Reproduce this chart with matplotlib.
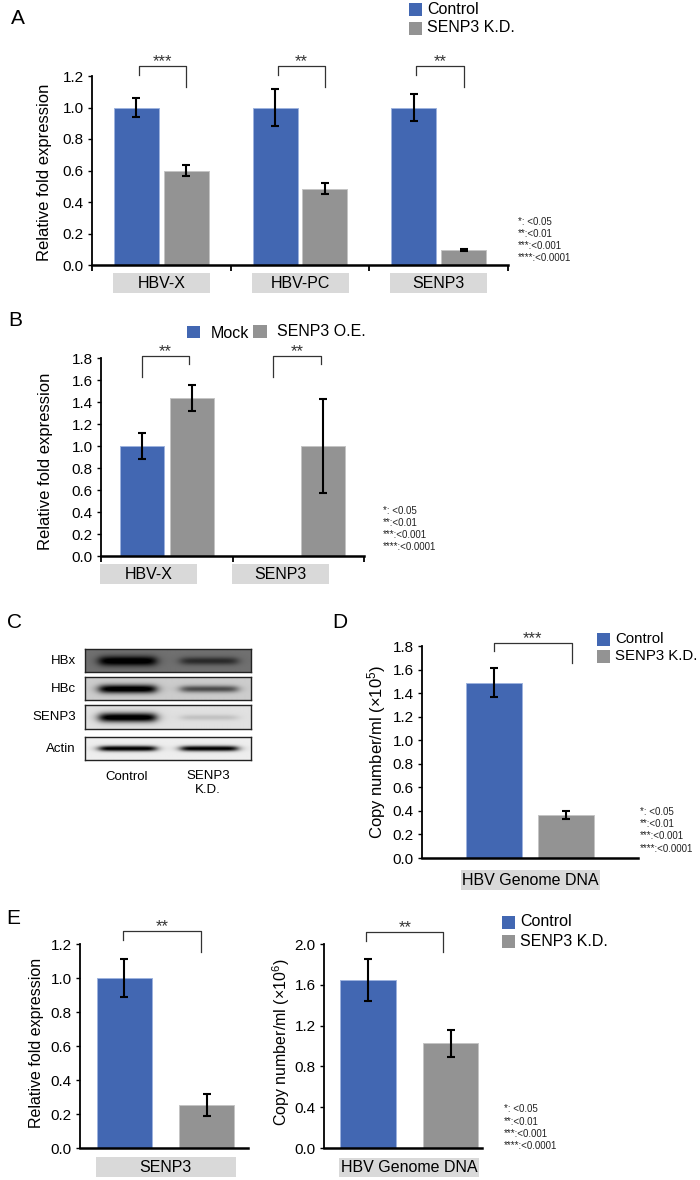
import numpy as np
import matplotlib
matplotlib.use("Agg")
import matplotlib.pyplot as plt
from matplotlib.patches import Rectangle

plt.rcParams['font.family'] = ['Liberation Sans', 'DejaVu Sans']
plt.rcParams['mathtext.fontset'] = 'custom'
plt.rcParams['mathtext.rm'] = 'Liberation Sans'
plt.rcParams['mathtext.it'] = 'Liberation Sans:italic'

# ---------------- data ----------------
A_groups = ['HBV-X', 'HBV-PC', 'SENP3']
A_control = [1.0, 1.0, 1.0]
A_control_err = [0.06, 0.12, 0.087]
A_kd = [0.60, 0.485, 0.095]
A_kd_err = [0.035, 0.035, 0.004]
A_sig = ['***', '**', '**']
A_yticks = [0.0, 0.2, 0.4, 0.6, 0.8, 1.0, 1.2]

B_groups = ['HBV-X', 'SENP3']
B_mock = [1.0, 0.0]
B_mock_err = [0.115, 0.0]
B_oe = [1.435, 1.0]
B_oe_err = [0.12, 0.43]
B_sig = ['**', '**']
B_yticks = [0.0, 0.2, 0.4, 0.6, 0.8, 1.0, 1.2, 1.4, 1.6, 1.8]

C_rows = ['HBx', 'HBc', 'SENP3', 'Actin']
C_lanes = ['Control', 'SENP3\nK.D.']
C_control_band = [1.0, 0.97, 0.97, 0.97]
C_kd_band = [0.55, 0.55, 0.12, 0.95]
C_background = [0.44, 0.80, 0.88, 0.93]
C_band_sigma = [5.0, 4.4, 4.8, 2.6]

D_groups = ['HBV Genome DNA']
D_control = [1.49]
D_control_err = [0.12]
D_kd = [0.365]
D_kd_err = [0.035]
D_sig = ['***']
D_yticks = [0.0, 0.2, 0.4, 0.6, 0.8, 1.0, 1.2, 1.4, 1.6, 1.8]

E1_groups = ['SENP3']
E1_control = [1.0]
E1_control_err = [0.11]
E1_kd = [0.255]
E1_kd_err = [0.065]
E1_sig = ['**']
E1_yticks = [0.0, 0.2, 0.4, 0.6, 0.8, 1.0, 1.2]

E2_groups = ['HBV Genome DNA']
E2_control = [1.645]
E2_control_err = [0.205]
E2_kd = [1.025]
E2_kd_err = [0.135]
E2_sig = ['**']
E2_yticks = [0.0, 0.4, 0.8, 1.2, 1.6, 2.0]

sig_legend = ['*: <0.05', '**:<0.01', '***:<0.001', '****:<0.0001']

# ---------------- style ----------------
BLUE = '#4267b2'
BLUE_EDGE = '#9db3de'
GREY = '#939393'
GREY_EDGE = '#c4c4c4'
BOX = '#d9d9d9'
W, H = 700, 1180

fig = plt.figure(figsize=(W / 100, H / 100), dpi=100)
ov = fig.add_axes([0, 0, 1, 1], zorder=5)
ov.set_xlim(0, W)
ov.set_ylim(H, 0)
ov.axis('off')
ov.patch.set_alpha(0)


def ax_px(x0, y0, x1, y1):
    return fig.add_axes([x0 / W, 1 - y1 / H, (x1 - x0) / W, (y1 - y0) / H])


def style_axes(ax, yticks, ylim):
    ax.set_ylim(*ylim)
    ax.set_yticks(yticks)
    ax.set_yticklabels([f'{t:.1f}' for t in yticks], fontsize=11)
    for s in ['top', 'right']:
        ax.spines[s].set_visible(False)
    ax.spines['left'].set_linewidth(1.3)
    ax.spines['bottom'].set_linewidth(1.8)
    ax.tick_params(axis='y', length=3, width=1, pad=3, direction='out')
    ax.patch.set_alpha(0)


def draw_bars(ax, x, ctrl, ctrl_err, kd, kd_err, off, width):
    x = np.asarray(x, dtype=float)
    ctrl = np.asarray(ctrl, dtype=float)
    kd = np.asarray(kd, dtype=float)
    ax.bar(x - off, ctrl, width, color=BLUE, edgecolor=BLUE_EDGE, linewidth=0.7, zorder=2)
    ax.bar(x + off, kd, width, color=GREY, edgecolor=GREY_EDGE, linewidth=0.7, zorder=2)
    m = ctrl > 0
    ax.errorbar((x - off)[m], ctrl[m], yerr=np.asarray(ctrl_err)[m], fmt='none', ecolor='black',
                elinewidth=1.5, capsize=3, capthick=1.5, zorder=3)
    ax.errorbar(x + off, kd, yerr=kd_err, fmt='none', ecolor='black',
                elinewidth=1.5, capsize=3, capthick=1.5, zorder=3)


def bracket(ax, xl, xr, ytop, yl, yr, stars):
    ax.plot([xl, xl, xr, xr], [yl, ytop, ytop, yr], color='#333333', lw=0.9,
            clip_on=False, zorder=4)
    ax.annotate(stars, xy=((xl + xr) / 2, ytop), xytext=(0, 0), textcoords='offset points',
                ha='center', va='baseline', fontsize=12, color='#333333', annotation_clip=False)


def cat_box(ax, xdata, label, y0, y1, width, dx=0):
    px = ax.transData.transform((xdata, 0))[0] + dx
    ov.add_patch(Rectangle((px - width / 2, y0), width, y1 - y0, facecolor=BOX, edgecolor='none'))
    ov.text(px, (y0 + y1) / 2 + 0.5, label, ha='center', va='center', fontsize=11.5)


def sig_text(x, ys):
    for s, y in zip(sig_legend, ys):
        ov.text(x, y, s, ha='left', va='center', fontsize=7,
                family=['Liberation Sans Narrow', 'Liberation Sans'], color='#222222')


def legend(x, y0, labels, colors, gap=19, size=13, fs=11.5):
    for i, (lab, c) in enumerate(zip(labels, colors)):
        y = y0 + i * gap
        ov.add_patch(Rectangle((x, y - size / 2), size, size, facecolor=c, edgecolor='none'))
        ov.text(x + size + 5, y, lab, ha='left', va='center', fontsize=fs)


def panel_letter(x, y, s):
    ov.text(x, y, s, ha='center', va='center', fontsize=15)


def ylabel(x, y, s, fs=11.5):
    ov.text(x, y, s, ha='center', va='center', rotation=90, fontsize=fs)


# ---------------- Panel A ----------------
axA = ax_px(92, 76, 508, 265)
style_axes(axA, A_yticks, (0, 1.2))
xA = np.arange(len(A_groups))
axA.set_xlim(-0.5, len(A_groups) - 0.5)
draw_bars(axA, xA, A_control, A_control_err, A_kd, A_kd_err, 0.18, 0.324)
axA.set_xticks(np.arange(len(A_groups) + 1) - 0.5)
axA.set_xticklabels([])
axA.tick_params(axis='x', length=4, width=1.3, direction='out')
for i, s in enumerate(A_sig):
    bracket(axA, xA[i] - 0.16, xA[i] + 0.18, 1.263, 1.206, 1.13, s)
for i, g in enumerate(A_groups):
    cat_box(axA, xA[i], g, 273, 293, 97)
panel_letter(18, 19, 'A')
ylabel(45, 172, 'Relative fold expression', 12)
legend(409, 9, ['Control', 'SENP3 K.D.'], [BLUE, GREY])
sig_text(518, [222, 234, 246, 258])

# ---------------- Panel B ----------------
axB = ax_px(101, 358, 364, 556)
style_axes(axB, B_yticks, (0, 1.8))
xB = np.arange(len(B_groups))
axB.set_xlim(-0.5, len(B_groups) - 0.5)
draw_bars(axB, xB, B_mock, B_mock_err, B_oe, B_oe_err, 0.19, 0.333)
axB.set_xticks(np.arange(len(B_groups) + 1) - 0.5)
axB.set_xticklabels([])
axB.tick_params(axis='x', length=4, width=1.3, direction='out')
for i, s in enumerate(B_sig):
    bracket(axB, xB[i] - 0.19, xB[i] + 0.17, 1.818, 1.627, 1.745, s)
for i, g in enumerate(B_groups):
    cat_box(axB, xB[i], g, 564, 584, 97, dx=-18)
panel_letter(15, 321, 'B')
ylabel(46, 461, 'Relative fold expression', 12)
ov.add_patch(Rectangle((187, 326), 13, 12, facecolor=BLUE, edgecolor='none'))
ov.text(211, 333, 'Mock', ha='left', va='center', fontsize=11.5)
ov.add_patch(Rectangle((253, 325), 14, 13, facecolor=GREY, edgecolor='none'))
ov.text(277, 331, 'SENP3 O.E.', ha='left', va='center', fontsize=11.5)
sig_text(383, [511, 523, 535, 547])

# ---------------- Panel C (western blot) ----------------
panel_letter(15, 622, 'C')
row_boxes = [(649, 672), (677, 700), (705, 729), (737, 760)]
lane_frac = [0.253, 0.741]
for r, (y0, y1) in enumerate(row_boxes):
    axr = ax_px(85, y0, 251, y1)
    w, h = 166, int(y1 - y0)
    xx = np.arange(w)[None, :]
    yy = np.arange(h)[:, None]
    dark = np.zeros((h, w))
    for lane, inten in enumerate([C_control_band[r], C_kd_band[r]]):
        cx = lane_frac[lane] * w
        hw = 28
        hprof = 1 / (1 + np.exp((np.abs(xx - cx) - hw) / 3.0))
        sig = C_band_sigma[r] * (0.55 + 0.45 * inten)
        vprof = np.exp(-((yy - h / 2) / sig) ** 2)
        dark += inten * hprof * vprof
    dark = np.clip(dark * 1.15, 0, 1)
    img = C_background[r] * (1 - dark)
    axr.imshow(img, cmap='gray', vmin=0, vmax=1, aspect='auto', interpolation='bilinear',
               extent=[0, 1, 0, 1])
    axr.set_xticks([])
    axr.set_yticks([])
    for s in axr.spines.values():
        s.set_linewidth(1.0)
        s.set_color('#222222')
    ov.text(76, (y0 + y1) / 2, C_rows[r], ha='right', va='center', fontsize=9.5)
for lane, lab in enumerate(C_lanes):
    px = 85 + lane_frac[lane] * 166
    ov.text(px, 777 if lane == 0 else 783, lab, ha='center', va='center', fontsize=9.5,
            linespacing=1.2)

# ---------------- Panel D ----------------
axD = ax_px(422, 646, 638, 858)
style_axes(axD, D_yticks, (0, 1.8))
axD.set_xlim(-1.5, 1.5)
axD.set_xticks([])
draw_bars(axD, [0], D_control, D_control_err, D_kd, D_kd_err, 0.5, 0.79)
bracket(axD, -0.5, 0.58, 1.825, 1.757, 1.655, D_sig[0])
cat_box(axD, 0, D_groups[0], 870, 890, 139)
panel_letter(340, 623, 'D')
ylabel(377, 752, 'Copy number/ml (×10$^{5}$)', 12)
legend(597, 639, ['Control', 'SENP3 K.D.'], [BLUE, GREY], gap=17, fs=10.8)
sig_text(640, [812, 824, 836, 849])

# ---------------- Panel E ----------------
axE1 = ax_px(80, 944, 248, 1148)
style_axes(axE1, E1_yticks, (0, 1.2))
axE1.set_xlim(-1.04, 1.0)
axE1.set_xticks([])
draw_bars(axE1, [0], E1_control, E1_control_err, E1_kd, E1_kd_err, 0.5, 0.67)
bracket(axE1, -0.52, 0.43, 1.276, 1.224, 1.153, E1_sig[0])
cat_box(axE1, 0, E1_groups[0], 1157, 1177, 140)

axE2 = ax_px(324, 944, 482, 1148)
style_axes(axE2, E2_yticks, (0, 2.0))
axE2.set_xlim(-1.033, 0.88)
axE2.set_xticks([])
draw_bars(axE2, [0], E2_control, E2_control_err, E2_kd, E2_kd_err, 0.5, 0.67)
bracket(axE2, -0.52, 0.41, 2.118, 2.03, 1.92, E2_sig[0])
cat_box(axE2, 0, E2_groups[0], 1158, 1177, 140)

panel_letter(13, 918, 'E')
ylabel(37, 1043, 'Relative fold expression')
ylabel(281, 1042, 'Copy number/ml (×10$^{6}$)')
legend(502, 922, ['Control', 'SENP3 K.D.'], [BLUE, GREY], gap=19)
sig_text(504, [1109, 1122, 1134, 1146])

fig.savefig('out.png', dpi=100)
